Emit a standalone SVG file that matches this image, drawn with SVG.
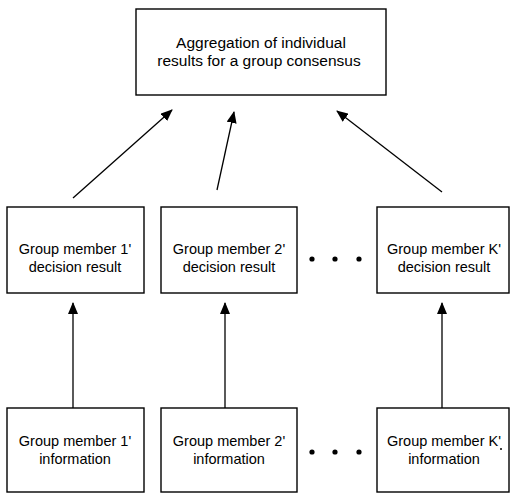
<svg xmlns="http://www.w3.org/2000/svg" width="511" height="493" viewBox="0 0 511 493">
<style>
.box{fill:#fff;stroke:#000;stroke-width:1.4}
.t{font-family:"Liberation Sans",Arial,sans-serif;font-size:14.5px;fill:#000;text-anchor:middle}
.big{font-size:15.5px}
.c{stroke:#000;stroke-width:1.3;fill:none;marker-end:url(#ah)}
.dot{fill:#000}
</style>
<defs>
<marker id="ah" viewBox="0 0 12 10" refX="11" refY="5" markerWidth="12" markerHeight="10" markerUnits="userSpaceOnUse" orient="auto">
<path d="M0,0 L12,5 L0,10 Z" fill="#000"/>
</marker>
</defs>
<rect width="511" height="493" fill="#fff"/>
<g id="aggregation">
<rect class="box" x="136" y="9" width="250" height="86"/>
<text class="t big" x="261" y="48">Aggregation of individual</text>
<text class="t big" x="259" y="66">results for a group consensus</text>
</g>
<g id="result1">
<rect class="box" x="7" y="207" width="137" height="86"/>
<text class="t" x="75" y="254">Group member 1'</text>
<text class="t" x="75" y="272">decision result</text>
</g>
<g id="result2">
<rect class="box" x="161" y="207" width="136" height="86"/>
<text class="t" x="229" y="254">Group member 2'</text>
<text class="t" x="229" y="272">decision result</text>
</g>
<g id="resultK">
<rect class="box" x="377" y="207" width="132" height="86"/>
<text class="t" x="444" y="254">Group member K'</text>
<text class="t" x="444" y="272">decision result</text>
</g>
<g id="info1">
<rect class="box" x="7" y="408" width="137" height="84"/>
<text class="t" x="75" y="446">Group member 1'</text>
<text class="t" x="75" y="464">information</text>
</g>
<g id="info2">
<rect class="box" x="161" y="408" width="136" height="84"/>
<text class="t" x="229" y="446">Group member 2'</text>
<text class="t" x="229" y="464">information</text>
</g>
<g id="infoK">
<rect class="box" x="377" y="408" width="132" height="84"/>
<text class="t" x="444" y="446">Group member K'</text>
<text class="t" x="444" y="464">information</text>
<circle class="dot" cx="501" cy="449" r="1"/>
</g>
<g id="ellipsis">
<circle class="dot" cx="312" cy="259" r="2.6"/>
<circle class="dot" cx="335" cy="259" r="2.6"/>
<circle class="dot" cx="359" cy="259" r="2.6"/>
<circle class="dot" cx="312" cy="452" r="2.6"/>
<circle class="dot" cx="335" cy="452" r="2.6"/>
<circle class="dot" cx="359" cy="452" r="2.6"/>
</g>
<g id="connectors">
<line class="c" x1="73" y1="198" x2="172" y2="110"/>
<line class="c" x1="217" y1="190" x2="234" y2="112"/>
<line class="c" x1="442" y1="192" x2="337" y2="111"/>
<line class="c" x1="73" y1="408" x2="73" y2="303"/>
<line class="c" x1="225" y1="408" x2="225" y2="303"/>
<line class="c" x1="442" y1="408" x2="442" y2="303"/>
</g>
</svg>
